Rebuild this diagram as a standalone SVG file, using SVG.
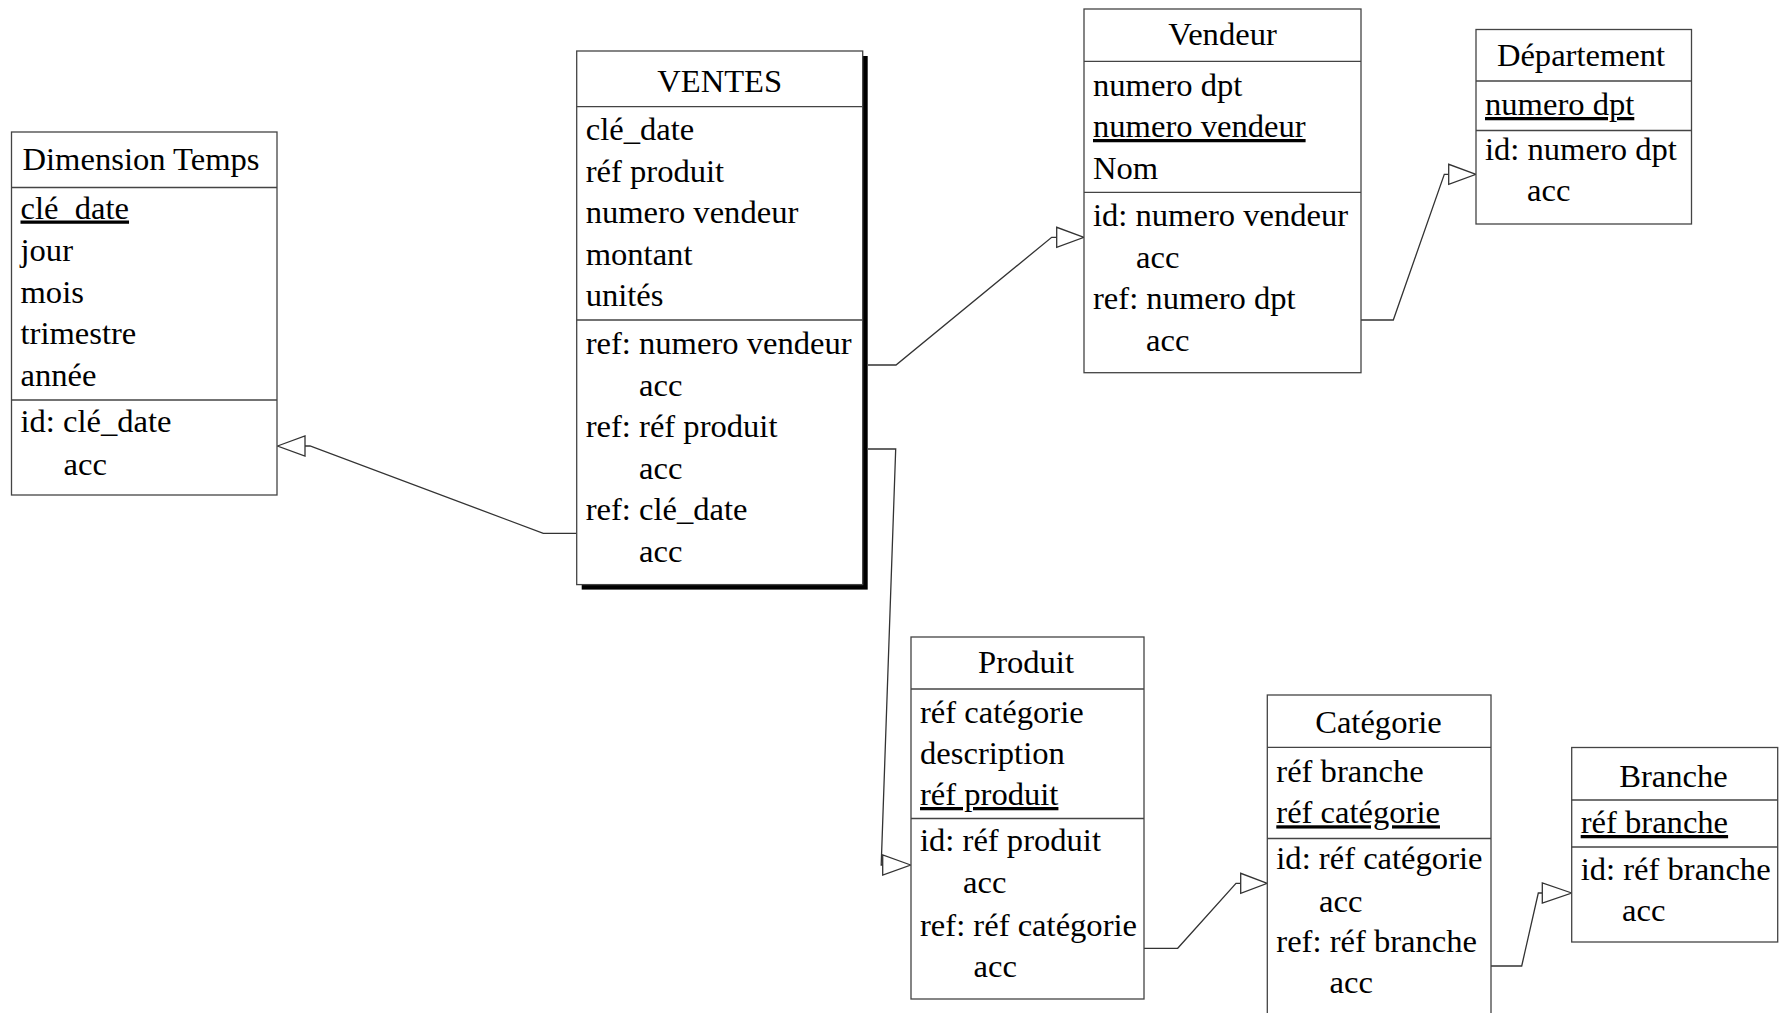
<svg xmlns="http://www.w3.org/2000/svg" width="1780" height="1013" viewBox="0 0 1780 1013">
<style>
.box{fill:#fff;stroke:#444;stroke-width:1.3}
.sep{stroke:#444;stroke-width:1.3}
.shadow{fill:#000}
text{font-family:"Liberation Serif","Times New Roman",serif;font-size:32.6px;fill:#000}
.t{text-anchor:middle}
.u{text-decoration:underline}
.conn{fill:none;stroke:#333;stroke-width:1.3}
.head{fill:#fff;stroke:#333;stroke-width:1.3}
</style>
<rect width="1780" height="1013" fill="#fff"/>
<g id="connectors">
<polyline class="conn" points="576.7,533.3 543.3,533.3 310,446 305,446"/>
<polygon class="head" points="277.5,446 305,436 305,456"/>
<polyline class="conn" points="868,365 896,365 1051.7,237.3 1056.7,237.3"/>
<polygon class="head" points="1084,237.3 1056.7,227.3 1056.7,247.3"/>
<polyline class="conn" points="868,449 895.7,449 881.2,865 882.7,865"/>
<polygon class="head" points="910.7,865 882.7,855 882.7,875"/>
<polyline class="conn" points="1361,320 1393.3,320 1444.3,174.3 1448.7,174.3"/>
<polygon class="head" points="1476,174.3 1448.7,164.3 1448.7,184.3"/>
<polyline class="conn" points="1144,948.3 1177.7,948.3 1236,883.3 1240.7,883.3"/>
<polygon class="head" points="1267.3,883.3 1240.7,873.3 1240.7,893.3"/>
<polyline class="conn" points="1491,966 1521.7,966 1538.3,893 1542.3,893"/>
<polygon class="head" points="1571.7,893 1542.3,883 1542.3,903"/>
</g>
<g id="dimension-temps">
<rect class="box" x="11.5" y="132" width="265.5" height="363"/>
<line class="sep" x1="11.5" y1="187.5" x2="277" y2="187.5"/>
<line class="sep" x1="11.5" y1="400" x2="277" y2="400"/>
<text class="t" x="141" y="170">Dimension Temps</text>
<text class="u" x="20.5" y="218.5">clé_date</text>
<text x="20.5" y="261">jour</text>
<text x="20.5" y="303">mois</text>
<text x="20.5" y="344">trimestre</text>
<text x="20.5" y="386">année</text>
<text x="20.5" y="432">id: clé_date</text>
<text x="63.5" y="475">acc</text>
</g>
<g id="ventes">
<rect class="shadow" x="581.7" y="56" width="286" height="533.6"/>
<rect class="box" x="576.7" y="51" width="286" height="533.6"/>
<line class="sep" x1="576.7" y1="106.7" x2="862.7" y2="106.7"/>
<line class="sep" x1="576.7" y1="320" x2="862.7" y2="320"/>
<text class="t" x="719.7" y="91.5">VENTES</text>
<text x="585.7" y="140">clé_date</text>
<text x="585.7" y="181.5">réf produit</text>
<text x="585.7" y="223">numero vendeur</text>
<text x="585.7" y="264.5">montant</text>
<text x="585.7" y="306">unités</text>
<text x="585.7" y="354">ref: numero vendeur</text>
<text x="639" y="395.5">acc</text>
<text x="585.7" y="437">ref: réf produit</text>
<text x="639" y="478.5">acc</text>
<text x="585.7" y="520">ref: clé_date</text>
<text x="639" y="561.5">acc</text>
</g>
<g id="vendeur">
<rect class="box" x="1084" y="9" width="277" height="363.7"/>
<line class="sep" x1="1084" y1="61.3" x2="1361" y2="61.3"/>
<line class="sep" x1="1084" y1="192.3" x2="1361" y2="192.3"/>
<text class="t" x="1222.5" y="45">Vendeur</text>
<text x="1093" y="95.5">numero dpt</text>
<text class="u" x="1093" y="137">numero vendeur</text>
<text x="1093" y="178.5">Nom</text>
<text x="1093" y="226">id: numero vendeur</text>
<text x="1136" y="267.5">acc</text>
<text x="1093" y="309">ref: numero dpt</text>
<text x="1146" y="350.5">acc</text>
</g>
<g id="departement">
<rect class="box" x="1476" y="29.5" width="215.5" height="194.5"/>
<line class="sep" x1="1476" y1="81" x2="1691.5" y2="81"/>
<line class="sep" x1="1476" y1="130.5" x2="1691.5" y2="130.5"/>
<text class="t" x="1581" y="66">Département</text>
<text class="u" x="1485" y="115">numero dpt</text>
<text x="1485" y="160">id: numero dpt</text>
<text x="1527" y="201">acc</text>
</g>
<g id="produit">
<rect class="box" x="911" y="637" width="233" height="362"/>
<line class="sep" x1="911" y1="689" x2="1144" y2="689"/>
<line class="sep" x1="911" y1="818.5" x2="1144" y2="818.5"/>
<text class="t" x="1026" y="673">Produit</text>
<text x="920" y="722.5">réf catégorie</text>
<text x="920" y="763.5">description</text>
<text class="u" x="920" y="805">réf produit</text>
<text x="920" y="850.5">id: réf produit</text>
<text x="963" y="893">acc</text>
<text x="920" y="935.5">ref: réf catégorie</text>
<text x="973.5" y="977">acc</text>
</g>
<g id="categorie">
<rect class="box" x="1267.3" y="695" width="223.7" height="340"/>
<line class="sep" x1="1267.3" y1="747.3" x2="1491" y2="747.3"/>
<line class="sep" x1="1267.3" y1="838.5" x2="1491" y2="838.5"/>
<text class="t" x="1378.5" y="733.3">Catégorie</text>
<text x="1276.3" y="781.7">réf branche</text>
<text class="u" x="1276.3" y="823.3">réf catégorie</text>
<text x="1276.3" y="869.3">id: réf catégorie</text>
<text x="1319" y="911.5">acc</text>
<text x="1276.3" y="951.7">ref: réf branche</text>
<text x="1329.5" y="993">acc</text>
</g>
<g id="branche">
<rect class="box" x="1571.7" y="747.5" width="206" height="194.5"/>
<line class="sep" x1="1571.7" y1="800" x2="1777.7" y2="800"/>
<line class="sep" x1="1571.7" y1="847" x2="1777.7" y2="847"/>
<text class="t" x="1673.5" y="786.7">Branche</text>
<text class="u" x="1580.7" y="833">réf branche</text>
<text x="1580.7" y="880">id: réf branche</text>
<text x="1622" y="921">acc</text>
</g>
</svg>
